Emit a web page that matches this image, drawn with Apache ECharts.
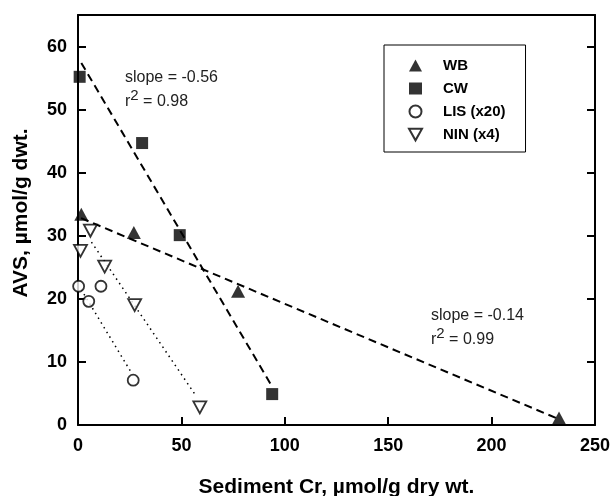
<!DOCTYPE html>
<html>
<head>
<meta charset="utf-8">
<script src="https://cdn.jsdelivr.net/npm/echarts@6/dist/echarts.min.js"></script>
<style>
html,body{margin:0;padding:0;background:#fff;}
#c{width:611px;height:496px;}
</style>
</head>
<body>
<div id="c"></div>
<script>
// ---- data ----
const wbData  = [[1.6, 33.4], [27.0, 30.5], [77.4, 21.2], [232.6, 1.1]];
const cwData  = [[0.8, 55.2], [31.0, 44.7], [49.2, 30.1], [93.9, 4.9]];
const lisData = [[0.3, 22.0], [5.2, 19.6], [11.1, 22.0], [26.7, 7.1]];
const ninData = [[1.2, 27.6], [6.0, 30.8], [12.9, 25.1], [27.4, 19.0], [58.9, 2.8]];
// regression lines (end points)
const wbFit  = [[1.5, 32.8], [232.0, 1.0]];
const cwFit  = [[1.6, 57.4], [93.5, 6.3]];
const lisFit = [[1.5, 21.5], [25.8, 8.3]];
const ninFit = [[6.5, 29.0], [57.3, 4.5]];
const seriesNames = ['WB', 'CW', 'LIS (x20)', 'NIN (x4)'];
const xTicks = [0, 50, 100, 150, 200, 250];
const yTicks = [0, 10, 20, 30, 40, 50, 60];
const notes = [
  {slope: 'slope = -0.56', r2: ' = 0.98'},
  {slope: 'slope = -0.14', r2: ' = 0.99'}
];

const FONT = '"Liberation Sans", Arial, Helvetica, sans-serif';
const chart = echarts.init(document.getElementById('c'), null, {renderer: 'canvas'});

const axisLine = {show: true, onZero: false, lineStyle: {color: '#000', width: 2}};
const dashed = {color: '#000', width: 2, type: [8, 5]};
const dotted = {color: '#000', width: 1.5, type: [1.5, 4]};
const downTriangle = 'path://M0,0L10,0L5,9Z';

function noteGraphic(n, x, y) {
  return [
    {type: 'text', left: x, top: y, z: 50,
     style: {text: n.slope, font: '16px ' + FONT, fill: '#222'}},
    {type: 'text', left: x, top: y + 18, z: 50,
     style: {
       text: '{r|r}{s|2}{r|' + n.r2 + '}',
       fill: '#222',
       rich: {
         r: {fontSize: 16, fontFamily: FONT, verticalAlign: 'bottom', fill: '#222'},
         s: {fontSize: 15, fontFamily: FONT, verticalAlign: 'top', padding: [0, 0, 7, 0], fill: '#222'}
       }
     }}
  ];
}

const option = {
  backgroundColor: '#fff',
  animation: false,
  grid: {left: 78, right: 16, top: 15, bottom: 71, containLabel: false, outerBoundsMode: 'none'},
  xAxis: [{
    type: 'value', min: xTicks[0], max: xTicks[xTicks.length - 1], interval: 50,
    position: 'bottom',
    name: 'Sediment Cr, \u00b5mol/g dry wt.', nameLocation: 'middle', nameGap: 52,
    nameTextStyle: {fontFamily: FONT, fontWeight: 'bold', fontSize: 21, color: '#000'},
    axisLine: axisLine,
    axisTick: {show: true, inside: true, length: 8, lineStyle: {color: '#000', width: 2}},
    axisLabel: {fontFamily: FONT, fontWeight: 'bold', fontSize: 18, color: '#000', margin: 12},
    splitLine: {show: false}
  }, {
    type: 'value', min: 0, max: 250, position: 'top',
    axisLine: axisLine, axisTick: {show: false}, axisLabel: {show: false}, splitLine: {show: false}
  }],
  yAxis: [{
    type: 'value', min: yTicks[0], max: 65, interval: 10,
    position: 'left',
    name: 'AVS, \u00b5mol/g dwt.', nameLocation: 'middle', nameGap: 46,
    nameTextStyle: {fontFamily: FONT, fontWeight: 'bold', fontSize: 21, color: '#000', padding: [0, 0, 0, 14]},
    axisLine: axisLine,
    axisTick: {show: true, inside: true, length: 8, lineStyle: {color: '#000', width: 2}},
    axisLabel: {fontFamily: FONT, fontWeight: 'bold', fontSize: 18, color: '#000', margin: 11, showMaxLabel: false},
    splitLine: {show: false}
  }, {
    type: 'value', min: 0, max: 65, interval: 10, position: 'right',
    axisLine: axisLine,
    axisTick: {show: true, inside: true, length: 8, lineStyle: {color: '#000', width: 2}},
    axisLabel: {show: false}, splitLine: {show: false}
  }],
  legend: {
    data: seriesNames,
    orient: 'vertical',
    left: 384, top: 45,
    padding: [13, 20, 10, 24],
    itemWidth: 13, itemHeight: 12, itemGap: 8,
    borderColor: '#000', borderWidth: 1, backgroundColor: '#fff',
    textStyle: {fontFamily: FONT, fontWeight: 'bold', fontSize: 15, color: '#000', padding: [0, 0, 0, 16]},
    selectedMode: false
  },
  series: [
    {type: 'line', data: wbFit, symbol: 'none', lineStyle: dashed, z: 2, silent: true},
    {type: 'line', data: cwFit, symbol: 'none', lineStyle: dashed, z: 2, silent: true},
    {type: 'line', data: lisFit, symbol: 'none', lineStyle: dotted, z: 2, silent: true},
    {type: 'line', data: ninFit, symbol: 'none', lineStyle: dotted, z: 2, silent: true},
    {name: seriesNames[0], type: 'scatter', data: wbData, symbol: 'triangle', symbolSize: [14, 13],
     itemStyle: {color: '#000'}, z: 5},
    {name: seriesNames[1], type: 'scatter', data: cwData, symbol: 'rect', symbolSize: 12,
     itemStyle: {color: '#000'}, z: 5},
    {name: seriesNames[2], type: 'scatter', data: lisData, symbol: 'circle', symbolSize: 11,
     itemStyle: {color: '#fff', borderColor: '#000', borderWidth: 1.8}, z: 5},
    {name: seriesNames[3], type: 'scatter', data: ninData, symbol: downTriangle, symbolSize: [13, 12],
     itemStyle: {color: '#fff', borderColor: '#000', borderWidth: 1.8}, z: 5}
  ],
  graphic: [].concat(noteGraphic(notes[0], 125, 70), noteGraphic(notes[1], 431, 308))
};
chart.setOption(option);
</script>
</body>
</html>
